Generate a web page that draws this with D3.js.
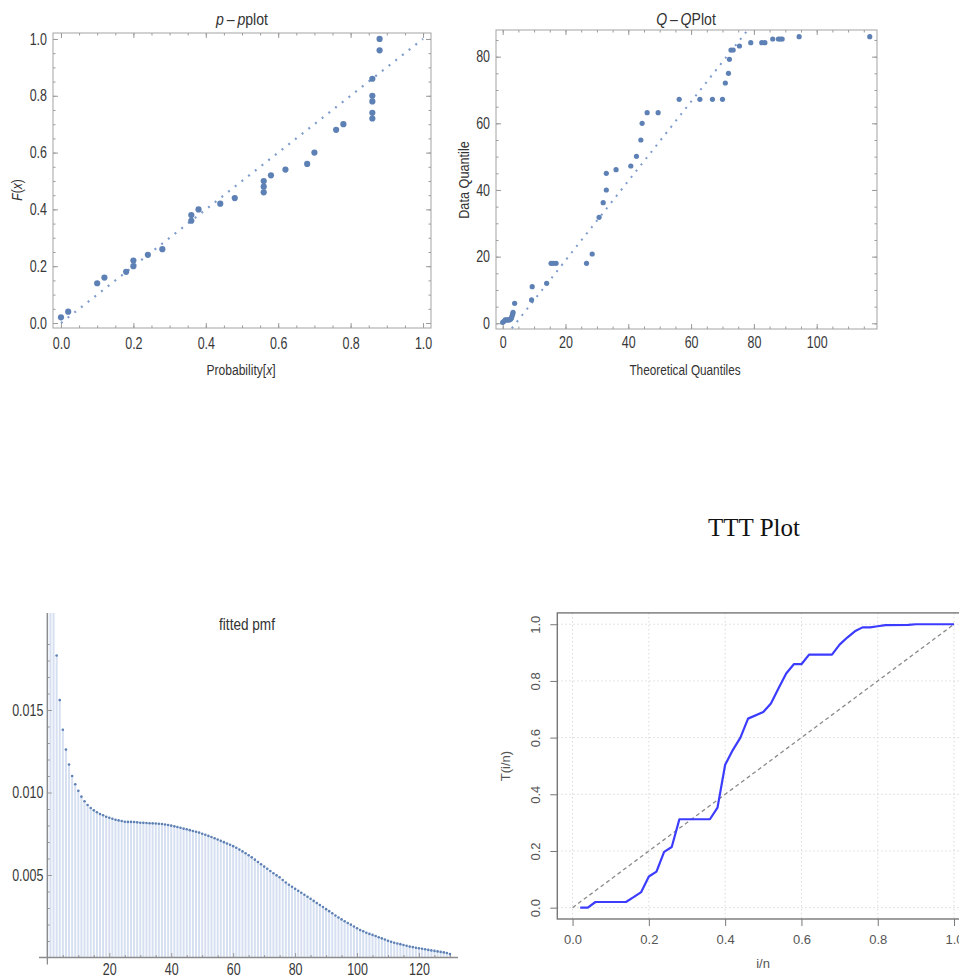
<!DOCTYPE html>
<html lang="en">
<head>
  <meta charset="UTF-8">
  <title>Goodness of fit plots</title>
  <style>
    body { margin: 0; background: #fff; }
    svg text { font-family: 'Liberation Sans', Arial, sans-serif; fill: #333; }
    .frame { fill: none; stroke: #a3a3a3; stroke-width: 1; }
    .mma .tick line { stroke: #9a9a9a; }
    .mma .tick text { font-size: 16px; fill: #383838; }
    .ttt .tick line { stroke: #777; }
    .ttt text, .ttt .tick text { font-family: 'Liberation Sans', Arial, sans-serif; fill: #555; font-size: 13px; }
    .grid line { stroke: #d9d9d9; stroke-dasharray: 1.5,2.5; }
  </style>
</head>
<body>
<div id="chart"></div>
<script src="https://d3js.org/d3.v7.min.js"></script>
<script>
// ---- p-p plot data (probability, F(x))
const ppProb = [0.00, 0.02, 0.10, 0.12, 0.18, 0.20, 0.20, 0.24, 0.28, 0.36, 0.36, 0.38, 0.44, 0.48, 0.56,
                0.56, 0.56, 0.58, 0.62, 0.68, 0.70, 0.76, 0.78, 0.86, 0.86, 0.86, 0.86, 0.86, 0.88, 0.88];
const ppF    = [0.02, 0.04, 0.14, 0.16, 0.18, 0.20, 0.22, 0.24, 0.26, 0.36, 0.38, 0.40, 0.42, 0.44, 0.46,
                0.48, 0.50, 0.52, 0.54, 0.56, 0.60, 0.68, 0.70, 0.72, 0.74, 0.78, 0.80, 0.86, 0.96, 1.00];
const ppTicks = [0, 0.2, 0.4, 0.6, 0.8, 1.0];

// ---- Q-Q plot data (theoretical, data quantile)
const qqTheo = [0.0, 0.4, 0.8, 1.3, 1.7, 2.1, 2.5, 2.8, 3.0, 3.2, 3.3, 3.8, 9.2, 9.4, 14.0, 15.4, 16.1, 17.0,
                26.7, 28.5, 30.7, 32.0, 33.0, 33.0, 36.1, 40.8, 42.6, 44.0, 44.4, 46.0, 49.5, 56.2, 62.8, 66.8,
                70.0, 70.9, 71.9, 72.2, 72.7, 73.4, 75.4, 79.0, 82.5, 83.5, 86.0, 87.8, 88.4, 89.0, 94.4, 116.9];
const qqData = [0.3, 0.6, 1.0, 1.0, 1.0, 1.0, 1.2, 1.6, 2.2, 2.8, 3.3, 6.0, 7.0, 11.0, 12.0, 18.0, 18.0, 18.0,
                18.0, 20.8, 31.8, 36.2, 40.0, 45.0, 46.1, 47.2, 50.1, 55.0, 60.0, 63.2, 63.2, 67.2, 67.2, 67.2,
                67.2, 72.1, 75.0, 79.2, 82.0, 82.0, 83.2, 84.2, 84.2, 84.2, 85.3, 85.3, 85.3, 85.3, 86.0, 86.0];
const qqLineX = [2.9, 78.2];
const qqLineY = [-1.5, 88.2];
const qqXTicks = [0, 20, 40, 60, 80, 100];
const qqYTicks = [0, 20, 40, 60, 80];

// ---- fitted pmf, value at x = 0, 1, 2, ... 130
const pmfValues = [
  0.060, 0.045, 0.030, 0.0183, 0.0156, 0.0138, 0.0126, 0.0117, 0.0110, 0.0105,
  0.0101, 0.00975, 0.00947, 0.00924, 0.00906, 0.00892, 0.00880, 0.00870, 0.00862, 0.00853,
  0.00847, 0.00841, 0.00835, 0.00831, 0.00827, 0.00823, 0.00822, 0.00822, 0.00821, 0.00819,
  0.00817, 0.00816, 0.00815, 0.00814, 0.00813, 0.00812, 0.00811, 0.00809, 0.00806, 0.00803,
  0.00799, 0.00795, 0.00791, 0.00786, 0.00781, 0.00777, 0.00772, 0.00767, 0.00762, 0.00757,
  0.00750, 0.00744, 0.00737, 0.00730, 0.00723, 0.00715, 0.00707, 0.00699, 0.00691, 0.00683,
  0.00675, 0.00665, 0.00654, 0.00643, 0.00632, 0.00620, 0.00607, 0.00593, 0.00579, 0.00565,
  0.00551, 0.00538, 0.00524, 0.00511, 0.00498, 0.00486, 0.00470, 0.00455, 0.00441, 0.00429,
  0.00416, 0.00404, 0.00392, 0.00380, 0.00368, 0.00356, 0.00343, 0.00330, 0.00318, 0.00306,
  0.00293, 0.00281, 0.00268, 0.00255, 0.00242, 0.00231, 0.00220, 0.00209, 0.00199, 0.00188,
  0.00177, 0.00167, 0.00159, 0.00150, 0.00143, 0.00137, 0.00130, 0.00123, 0.00116, 0.00109,
  0.00101, 0.00095, 0.00089, 0.00085, 0.00081, 0.00076, 0.00071, 0.00066, 0.00063, 0.00059,
  0.00056, 0.00053, 0.00050, 0.00046, 0.00043, 0.00040, 0.00037, 0.00034, 0.00031, 0.00027,
  0.00021];
const pmfXTicks = [20, 40, 60, 80, 100, 120];
const pmfYTicks = [0.005, 0.010, 0.015];

// ---- TTT plot (i/n, T(i/n))
const tttX = [0.02, 0.04, 0.06, 0.14, 0.16, 0.18, 0.20, 0.22, 0.24, 0.26, 0.28, 0.36, 0.38, 0.40, 0.42,
              0.44, 0.46, 0.50, 0.52, 0.54, 0.56, 0.58, 0.60, 0.62, 0.68, 0.70, 0.72, 0.74, 0.76, 0.78,
              0.80, 0.82, 0.88, 0.90, 1.00];
const tttY = [0.000, 0.000, 0.020, 0.020, 0.037, 0.055, 0.110, 0.127, 0.197, 0.214, 0.312, 0.312, 0.353, 0.504, 0.556,
              0.600, 0.667, 0.690, 0.720, 0.774, 0.826, 0.859, 0.859, 0.893, 0.893, 0.928, 0.953, 0.975, 0.989, 0.989,
              0.993, 0.997, 0.998, 1.000, 1.000];
const tttTicks = [0, 0.2, 0.4, 0.6, 0.8, 1.0];

const blue = '#5e81b5';
const squeeze = 0.78;   // Mathematica's narrow lettering

const svg = d3.select('#chart').append('svg')
  .attr('width', 959)
  .attr('height', 979)
  .style('background', 'white');

// Mathematica style frame: ticks inward on all four sides, labels left/bottom
function mmaFrame(g, x, y, xMaj, xMin, yMaj, yMin, xFmt, yFmt, xPad, yPad) {
  const [x0, x1] = x.range();
  const [y0, y1] = y.range();
  const ax = g.append('g').attr('class', 'mma');
  ax.append('g').attr('transform', 'translate(0,' + y0 + ')')
    .call(d3.axisBottom(x).tickValues(xMin).tickSize(-2.5).tickFormat(''));
  ax.append('g').attr('transform', 'translate(0,' + y0 + ')')
    .call(d3.axisBottom(x).tickValues(xMaj).tickSize(-5).tickPadding(xPad).tickFormat(xFmt));
  ax.append('g').attr('transform', 'translate(0,' + y1 + ')')
    .call(d3.axisTop(x).tickValues(xMin).tickSize(-2.5).tickFormat(''));
  ax.append('g').attr('transform', 'translate(0,' + y1 + ')')
    .call(d3.axisTop(x).tickValues(xMaj).tickSize(-5).tickFormat(''));
  ax.append('g').attr('transform', 'translate(' + x0 + ',0)')
    .call(d3.axisLeft(y).tickValues(yMin).tickSize(-2.5).tickFormat(''));
  ax.append('g').attr('transform', 'translate(' + x0 + ',0)')
    .call(d3.axisLeft(y).tickValues(yMaj).tickSize(-5).tickPadding(yPad).tickFormat(yFmt));
  ax.append('g').attr('transform', 'translate(' + x1 + ',0)')
    .call(d3.axisRight(y).tickValues(yMin).tickSize(-2.5).tickFormat(''));
  ax.append('g').attr('transform', 'translate(' + x1 + ',0)')
    .call(d3.axisRight(y).tickValues(yMaj).tickSize(-5).tickFormat(''));
  ax.selectAll('.domain').remove();
  ax.append('rect').attr('class', 'frame')
    .attr('x', x0).attr('y', y1)
    .attr('width', x1 - x0).attr('height', y0 - y1);
}

// squash text horizontally along its own direction
function condense(sel, k) {
  sel.each(function () {
    const t = d3.select(this);
    const x = +t.attr('x') || 0;
    t.attr('x', x / k);
    t.attr('transform', (t.attr('transform') || '') + ' scale(' + k + ',1)');
  });
}

function label(g, txt, x, y, size, rot, k) {
  const t = g.append('text')
    .attr('text-anchor', 'middle')
    .attr('font-size', size)
    .attr('fill', '#333')
    .attr('transform', 'translate(' + x + ',' + y + ')' + (rot ? ' rotate(' + rot + ')' : '') +
      ' scale(' + (k || squeeze) + ',1)');
  txt.forEach(function (p) {
    t.append('tspan').text(p[0]).attr('font-style', p[1] ? 'italic' : null);
  });
  return t;
}

// ================= p-p plot =================
const pp = svg.append('g');
const ppx = d3.scaleLinear().domain([-0.022, 1.022]).range([53, 431]);
const ppy = d3.scaleLinear().domain([-0.0176, 1.021]).range([328, 33]);
const fmt1 = d3.format('.1f');
mmaFrame(pp, ppx, ppy, ppTicks, d3.range(0, 1.01, 0.05), ppTicks, d3.range(0, 1.01, 0.05), fmt1, fmt1, 10, 6);

pp.append('line')
  .attr('x1', ppx(0)).attr('y1', ppy(0))
  .attr('x2', ppx(1)).attr('y2', ppy(1))
  .attr('stroke', '#7d9bcb').attr('stroke-width', 2.2)
  .attr('stroke-dasharray', '2,6.5');

pp.selectAll('circle')
  .data(ppProb)
  .enter()
  .append('circle')
  .attr('cx', function (d) { return ppx(d); })
  .attr('cy', function (d, i) { return ppy(ppF[i]); })
  .attr('r', 3.1)
  .attr('fill', blue);

label(pp, [['p', true], ['\u2009\u2013\u2009', false], ['p', true], ['plot', false]], 242, 25, 16, 0, 0.88);
label(pp, [['Probability[', false], ['x', true], [']', false]], 241, 375, 15.5);
label(pp, [['F', true], ['(', false], ['x', true], [')', false]], 22, 190, 15.5, -90);

// ================= Q-Q plot =================
const qq = svg.append('g');
const qqx = d3.scaleLinear().domain([-2.13, 119.2]).range([496, 877]);
const qqy = d3.scaleLinear().domain([-1.71, 88.0]).range([329, 30]);
mmaFrame(qq, qqx, qqy, qqXTicks, d3.range(0, 116, 5), qqYTicks, d3.range(0, 86, 5),
  d3.format('d'), d3.format('d'), 8, 6);

qq.append('clipPath').attr('id', 'qqclip')
  .append('rect').attr('x', 496).attr('y', 30).attr('width', 381).attr('height', 299);

qq.append('line')
  .attr('clip-path', 'url(#qqclip)')
  .attr('x1', qqx(qqLineX[0])).attr('y1', qqy(qqLineY[0]))
  .attr('x2', qqx(qqLineX[1])).attr('y2', qqy(qqLineY[1]))
  .attr('stroke', '#7d9bcb').attr('stroke-width', 2)
  .attr('stroke-dasharray', '2,6');

qq.selectAll('circle')
  .data(qqTheo)
  .enter()
  .append('circle')
  .attr('cx', function (d) { return qqx(d); })
  .attr('cy', function (d, i) { return qqy(qqData[i]); })
  .attr('r', 2.6)
  .attr('fill', blue);

label(qq, [['Q', true], ['\u2009\u2013\u2009', false], ['Q', true], ['Plot', false]], 686, 25, 16, 0, 0.88);
label(qq, [['Theoretical Quantiles', false]], 685, 375, 15.5, 0, 0.76);
label(qq, [['Data Quantile', false]], 469, 180, 15.5, -90, 0.82);

// ================= fitted pmf =================
const pm = svg.append('g').attr('class', 'mma');
const pmx = d3.scaleLinear().domain([-2.7, 132.6]).range([39, 458]);
const pmy = d3.scaleLinear().domain([0, 0.02088]).range([957.5, 613]);

pm.append('clipPath').attr('id', 'pmclip')
  .append('rect').attr('x', 39).attr('y', 613).attr('width', 420).attr('height', 345);

pm.append('g').attr('clip-path', 'url(#pmclip)')
  .selectAll('line')
  .data(pmfValues)
  .enter()
  .append('line')
  .attr('x1', function (d, i) { return pmx(i); })
  .attr('x2', function (d, i) { return pmx(i); })
  .attr('y1', pmy(0))
  .attr('y2', function (d) { return pmy(d); })
  .attr('stroke', '#d6e0f1')
  .attr('stroke-width', 2);

pm.append('g').attr('transform', 'translate(0,' + pmy(0) + ')')
  .call(d3.axisBottom(pmx).tickValues(d3.range(5, 131, 5).filter(function (v) { return v % 20; }))
    .tickSize(-2.5).tickFormat(''));
pm.append('g').attr('transform', 'translate(0,' + pmy(0) + ')')
  .call(d3.axisBottom(pmx).tickValues(pmfXTicks).tickSize(-4.5).tickPadding(6).tickFormat(d3.format('d')));
pm.append('g').attr('transform', 'translate(' + pmx(0) + ',0)')
  .call(d3.axisLeft(pmy).tickValues(d3.range(1, 21).map(function (v) { return v / 1000; })
      .filter(function (v, i) { return (i + 1) % 5; }))
    .tickSize(-2.5).tickFormat(''));
pm.append('g').attr('transform', 'translate(' + pmx(0) + ',0)')
  .call(d3.axisLeft(pmy).tickValues(pmfYTicks).tickSize(-4.5).tickPadding(4).tickFormat(d3.format('.3f')));
pm.selectAll('.domain').remove();
pm.append('line')
  .attr('x1', 39).attr('x2', 458).attr('y1', pmy(0)).attr('y2', pmy(0))
  .attr('stroke', '#8c8c8c').attr('stroke-width', 1.3);
pm.append('line')
  .attr('x1', pmx(0)).attr('x2', pmx(0)).attr('y1', 613).attr('y2', pmy(0) + 7)
  .attr('stroke', '#8c8c8c').attr('stroke-width', 1.3);

pm.append('g').attr('clip-path', 'url(#pmclip)')
  .selectAll('circle')
  .data(pmfValues)
  .enter()
  .append('circle')
  .attr('cx', function (d, i) { return pmx(i); })
  .attr('cy', function (d) { return pmy(d); })
  .attr('r', 1.3)
  .attr('fill', blue);

label(pm, [['fitted pmf', false]], 247, 630, 16, 0, 0.85);

// narrow tick lettering for the three Mathematica panels
condense(svg.selectAll('.mma .tick text'), squeeze);

// ================= TTT plot =================
const tt = svg.append('g').attr('class', 'ttt');
const ttx = d3.scaleLinear().domain([-0.04, 1.04]).range([557.3, 969.3]);
const tty = d3.scaleLinear().domain([-0.04, 1.04]).range([919, 612.9]);

const grid = tt.append('g').attr('class', 'grid');
grid.selectAll('.gx').data(tttTicks).enter().append('line')
  .attr('x1', function (d) { return ttx(d); }).attr('x2', function (d) { return ttx(d); })
  .attr('y1', 612.9).attr('y2', 919);
grid.selectAll('.gy').data(tttTicks).enter().append('line')
  .attr('y1', function (d) { return tty(d); }).attr('y2', function (d) { return tty(d); })
  .attr('x1', 557.3).attr('x2', 969.3);

tt.append('line')
  .attr('x1', ttx(0)).attr('y1', tty(0))
  .attr('x2', ttx(1)).attr('y2', tty(1))
  .attr('stroke', '#8a8a8a').attr('stroke-width', 1.3)
  .attr('stroke-dasharray', '4,3');

const tline = d3.line()
  .x(function (d) { return ttx(d); })
  .y(function (d, i) { return tty(tttY[i]); });
tt.append('path')
  .datum(tttX)
  .attr('d', tline)
  .attr('fill', 'none')
  .attr('stroke', '#3c3cff')
  .attr('stroke-width', 2.2)
  .attr('stroke-linejoin', 'round');

tt.append('rect')
  .attr('x', 557.3).attr('y', 612.9)
  .attr('width', 412).attr('height', 306.1)
  .attr('fill', 'none').attr('stroke', '#777').attr('stroke-width', 1.4);

tt.append('g').attr('transform', 'translate(0,919)')
  .call(d3.axisBottom(ttx).tickValues(tttTicks).tickSize(7).tickPadding(9).tickFormat(fmt1))
  .select('.domain').remove();
const ly = tt.append('g').attr('transform', 'translate(557.3,0)')
  .call(d3.axisLeft(tty).tickValues(tttTicks).tickSize(7).tickFormat(fmt1));
ly.select('.domain').remove();
ly.selectAll('text')
  .attr('x', 0).attr('y', -22.3).attr('dy', '0.35em')
  .attr('text-anchor', 'middle')
  .attr('transform', 'rotate(-90)');

tt.append('text').attr('x', 763).attr('y', 968).attr('text-anchor', 'middle').text('i/n');
tt.append('text').attr('text-anchor', 'middle')
  .attr('transform', 'translate(510,766) rotate(-90)').text('T(i/n)');

svg.append('text')
  .attr('x', 754).attr('y', 536)
  .attr('text-anchor', 'middle')
  .style('font-family', "'Liberation Serif', 'Times New Roman', serif")
  .style('font-size', '25px')
  .style('fill', '#111')
  .text('TTT Plot');
</script>
</body>
</html>
